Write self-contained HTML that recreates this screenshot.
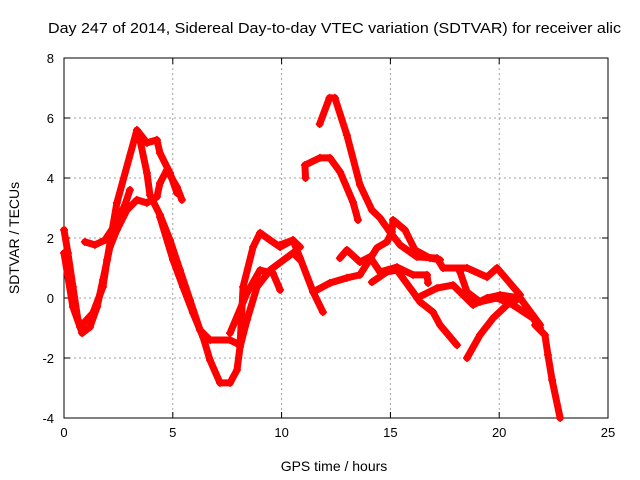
<!DOCTYPE html>
<html><head><meta charset="utf-8"><style>
body{margin:0;background:#fff}
svg{display:block;font-family:"Liberation Sans",sans-serif}
</style></head><body>
<svg width="640" height="480" xmlns="http://www.w3.org/2000/svg">
<rect width="640" height="480" fill="#fff"/>
<text x="48" y="33" font-size="15" textLength="573" lengthAdjust="spacingAndGlyphs">Day 247 of 2014, Sidereal Day-to-day VTEC variation (SDTVAR) for receiver alic</text>
<g id="grid"></g><g id="axes"></g><g id="series"></g>
<text x="334" y="471" font-size="14" text-anchor="middle">GPS time / hours</text>
<text transform="translate(19,238) rotate(-90)" font-size="14" text-anchor="middle">SDTVAR / TECUs</text>
</svg>
<script>
const xTicks=[0,5,10,15,20,25];
const yTicks=[-4,-2,0,2,4,6,8];
const trackA=[[0,2.27],[0.18,1.5],[0.41,0.37],[0.64,-0.73],[0.83,-1.17],[1.19,-0.97],[1.52,-0.3],[1.79,0.6],[2.11,1.7],[2.43,2.27],[2.89,2.93],[3.35,3.27],[3.81,3.17],[4.27,3.37],[4.41,3.83],[4.73,4.27],[5.19,3.7],[5.42,3.27]];
const trackB=[[0,1.5],[0.41,-0.3],[0.74,-0.97],[1.33,-0.5],[1.79,0.37],[1.98,1.27],[2.43,3.17],[3.35,5.6],[3.81,5.17],[4.27,5.27],[4.41,4.83],[4.87,4.17],[5.19,3.5]];
const trackC=[[4.41,2.7],[5.01,1.27],[5.47,0.37],[5.93,-0.5],[6.39,-1.3],[6.71,-2.07],[7.17,-2.83],[7.63,-2.83],[7.95,-2.4],[8.09,-1.63],[8.41,-0.73],[8.87,0.37],[9.47,0.93],[10.52,1.5],[10.85,1.27]];
const trackD=[[3.49,5.27],[3.81,4.17],[3.95,3.43],[4.41,2.77],[4.87,1.93],[5.33,0.93],[5.79,-0.07],[6.25,-1.07],[6.71,-1.4],[7.63,-1.4],[8.09,-1.57],[8.23,0.37],[8.69,1.7],[9.01,2.17],[9.47,1.93],[9.93,1.7],[10.52,1.93],[10.85,1.7]];
const trackE=[[7.63,-1.17],[8.41,0.17],[9.01,0.93],[9.6,0.83],[9.93,0.27]];
const trackF=[[0.96,1.87],[1.42,1.77],[1.88,1.93],[2.34,2.43],[2.8,3.1],[3.03,3.6]];
const trackG=[[11.75,5.8],[12.2,6.67],[12.45,6.67],[13.0,5.43],[13.6,3.77],[14.15,2.93],[14.52,2.67],[14.98,2.2],[15.44,1.77],[16.22,1.37],[17.14,1.33],[17.42,1.0],[18.52,1.0],[19.44,0.7],[19.9,1.0],[20.96,0.1]];
const trackH=[[11.1,4.0],[11.07,4.43],[11.76,4.67],[12.22,4.67],[12.69,4.2],[13.28,3.2],[13.51,2.6]];
const trackI=[[9.93,1.77],[10.52,1.93],[10.85,1.33],[11.45,0.2],[11.9,-0.47]];
const trackJ=[[11.45,0.2],[12.22,0.5],[13.0,0.67],[13.6,0.77],[14.38,1.67],[14.84,1.87],[15.07,2.2],[15.12,2.6],[15.67,2.27],[16.13,1.6],[16.82,1.33],[17.28,1.27]];
const trackK=[[12.68,1.33],[13.0,1.6],[13.6,1.2],[14.06,1.37],[14.52,0.87],[15.3,1.03],[16.04,0.77],[16.68,0.77],[16.73,0.5]];
const trackL=[[14.15,0.53],[14.84,0.87],[15.3,0.93],[16.04,0.2],[16.36,-0.13],[16.96,-0.47],[17.28,-0.9],[18.06,-1.57]];
const trackM=[[16.22,0],[17.14,0.33],[17.88,0.43],[18.8,-0.23],[19.44,0],[20.04,0.1],[20.96,0],[21.88,-0.9]];
const trackN=[[18.2,0.87],[18.52,0.2],[19.12,-0.13],[19.9,0],[20.63,-0.23],[21.55,-0.67],[21.88,-1.0]];
const trackO=[[18.52,-2.0],[19.12,-1.23],[19.72,-0.67],[20.36,-0.23],[20.96,0]];
const trackP=[[21.65,-0.9],[22.1,-1.23],[22.24,-1.9],[22.43,-2.73],[22.8,-4.0]];
const tracks=[trackA,trackB,trackC,trackD,trackE,trackF,trackG,trackH,trackI,trackJ,trackK,trackL,trackM,trackN,trackO,trackP];
const L=64,R=608,T=58,B=418;
const sx=h=>L+(h-0)/25*(R-L), sy=v=>B-(v+4)/12*(B-T);
const NS="http://www.w3.org/2000/svg";
function mk(t,a,p){const e=document.createElementNS(NS,t);for(const k in a)e.setAttribute(k,a[k]);p.appendChild(e);return e;}
const grid=document.getElementById('grid'),axes=document.getElementById('axes'),ser=document.getElementById('series');
xTicks.forEach(t=>{const x=sx(t);
 if(t>0&&t<25){const g=mk('line',{x1:x,x2:x,y1:T,y2:B,stroke:'#a0a0a0','stroke-dasharray':'2,3'},grid);}
 const tl=mk('text',{x:x,y:B+19,'font-size':13,'text-anchor':'middle'},axes);tl.textContent=t;
 
 mk('line',{x1:x,x2:x,y1:B,y2:B-6,stroke:'#000'},axes);mk('line',{x1:x,x2:x,y1:T,y2:T+6,stroke:'#000'},axes);});
yTicks.forEach(t=>{const y=sy(t);
 if(t>-4&&t<8){const g=mk('line',{x1:L,x2:R,y1:y,y2:y,stroke:'#a0a0a0','stroke-dasharray':'2,3'},grid);}
 const tl=mk('text',{x:L-10,y:y+5,'font-size':13,'text-anchor':'end'},axes);tl.textContent=t;
 
 mk('line',{x1:L,x2:L+6,y1:y,y2:y,stroke:'#000'},axes);mk('line',{x1:R,x2:R-6,y1:y,y2:y,stroke:'#000'},axes);});
const fr=mk('rect',{x:L,y:T,width:R-L,height:B-T,fill:'none',stroke:'#000'},axes);

tracks.forEach(tr=>{
 const pl=mk('polyline',{points:tr.map(p=>sx(p[0])+','+sy(p[1])).join(' '),fill:'none',stroke:'#ff0000','stroke-width':7,'stroke-linejoin':'round','stroke-linecap':'round'},ser);
 
 
 tr.forEach(p=>{const x=sx(p[0]),y=sy(p[1]);
  const m=mk('path',{d:`M${x-4},${y}H${x+4}M${x},${y-4}V${y+4}`,stroke:'#ff0000','stroke-width':1.5},ser);
  
  });
});
</script>
</body></html>
